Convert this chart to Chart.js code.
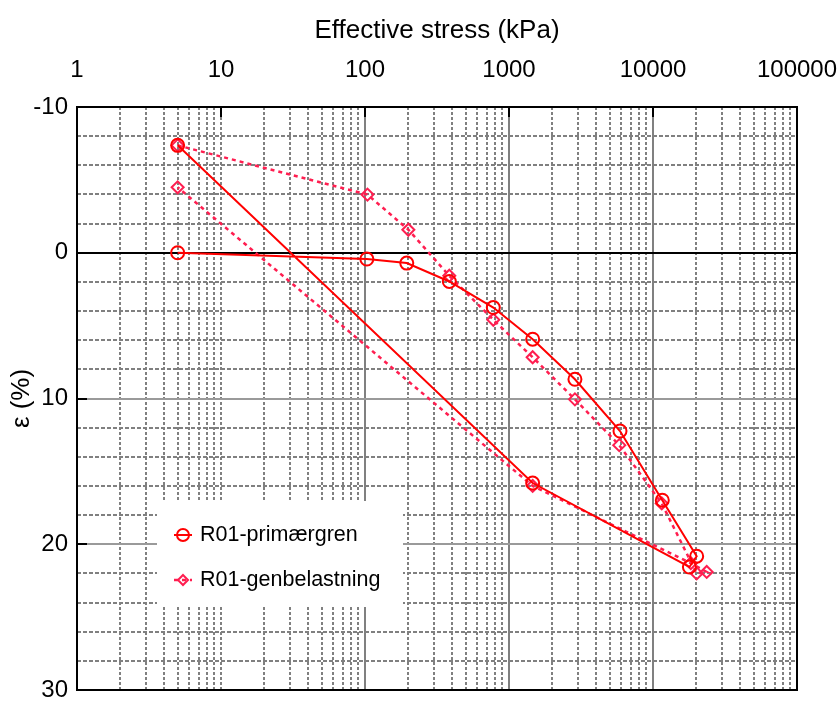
<!DOCTYPE html>
<html>
<head>
<meta charset="utf-8">
<script src="https://cdn.jsdelivr.net/npm/chart.js@4/dist/chart.umd.min.js"></script>
<style>
  html, body { margin: 0; padding: 0; background: #fff; }
  #wrap { width: 839px; height: 701px; }
</style>
</head>
<body>
<div id="wrap"><canvas id="myChart" width="839" height="701"></canvas></div>
<script>
// oedometer test R01: stress (kPa) vs. strain (%)
const primaryStress = [5, 103, 195, 385, 778, 1460, 2870, 5900, 11600, 20100, 17900, 1460, 5];
const primaryStrain = [0, 0.43, 0.71, 1.97, 3.76, 5.93, 8.68, 12.23, 16.98, 20.82, 21.56, 15.8, -7.37];

const reloadStress = [5, 104, 200, 385, 778, 1460, 2870, 5830, 11500, 20100, 23600, 18300, 1460, 5];
const reloadStrain = [-7.37, -3.99, -1.58, 1.58, 4.6, 7.17, 10.06, 13.2, 17.2, 22.0, 21.9, 21.3, 16.0, -4.49];

const seriesLabels = ["R01-primærgren", "R01-genbelastning"];
const stressTicks = [1, 10, 100, 1000, 10000, 100000];
const strainTicks = [-10, 0, 10, 20, 30];

const FONT = '"Liberation Sans", Arial, sans-serif';
const RED = "#ff0000";
const PINK = "#ff1e50";
const GRID = "#808080";

const toPoints = (xs, ys) => xs.map((x, i) => ({ x: x, y: ys[i] }));

// keep Chart.js from growing the margins for overhanging tick labels
const noOverhang = scale => {
    scale.paddingLeft = 0;
    scale.paddingRight = 0;
    scale.paddingTop = 0;
    scale.paddingBottom = 0;
};

// dotted log grid, solid decades, zero line, frame and inner ticks
const gridPlugin = {
    id: "logGrid",
    beforeDatasetsDraw(chart) {
        const { ctx, chartArea: a, scales: { x, y } } = chart;
        const vline = (px, color, dash) => {
            ctx.strokeStyle = color;
            ctx.setLineDash(dash);
            ctx.beginPath();
            ctx.moveTo(px, a.top);
            ctx.lineTo(px, a.bottom);
            ctx.stroke();
        };
        const hline = (py, color, dash) => {
            ctx.strokeStyle = color;
            ctx.setLineDash(dash);
            ctx.beginPath();
            ctx.moveTo(a.left, py);
            ctx.lineTo(a.right, py);
            ctx.stroke();
        };
        ctx.save();
        ctx.lineWidth = 2;

        for (let d = 1; d < 100000; d *= 10) {
            for (let m = 2; m <= 9; m++) {
                vline(Math.round(x.getPixelForValue(d * m)), GRID, [3, 2]);
            }
        }
        vline(Math.round(x.getPixelForValue(10)), GRID, [3, 2]);
        [100, 1000, 10000].forEach(v => vline(Math.round(x.getPixelForValue(v)), GRID, []));

        for (let v = -8; v < 30; v += 2) {
            if (v % 10 === 0) continue;
            hline(Math.round(y.getPixelForValue(v)), GRID, [4, 2]);
        }
        [10, 20].forEach(v => hline(Math.round(y.getPixelForValue(v)), "#9a9a9a", []));
        hline(Math.round(y.getPixelForValue(0)), "#000", []);

        ctx.setLineDash([]);
        ctx.strokeStyle = "#000";
        ctx.strokeRect(a.left, a.top, a.right - a.left, a.bottom - a.top);

        ctx.beginPath();
        stressTicks.slice(1).forEach(v => {
            const px = Math.round(x.getPixelForValue(v));
            ctx.moveTo(px, a.top);
            ctx.lineTo(px, a.top + 10);
        });
        [0, 10, 20].forEach(v => {
            const py = Math.round(y.getPixelForValue(v));
            ctx.moveTo(a.left, py);
            ctx.lineTo(a.left + 10, py);
        });
        ctx.stroke();
        ctx.restore();
    }
};

// boxed legend placed inside the plot, lower left
const legendPlugin = {
    id: "boxLegend",
    afterDatasetsDraw(chart) {
        const { ctx } = chart;
        const box = { x: 157, y: 501, w: 246, h: 106 };
        ctx.save();
        ctx.fillStyle = "#fff";
        ctx.fillRect(box.x, box.y, box.w, box.h);

        chart.data.datasets.forEach((ds, i) => {
            const cy = box.y + 34 + i * 45;
            const cx = box.x + 26;
            ctx.strokeStyle = ds.borderColor;
            ctx.lineWidth = ds.borderWidth;
            ctx.setLineDash(ds.borderDash || []);
            ctx.beginPath();
            ctx.moveTo(cx - 9, cy);
            ctx.lineTo(cx + 9, cy);
            ctx.stroke();

            ctx.setLineDash([]);
            ctx.lineWidth = 2;
            ctx.beginPath();
            if (ds.pointStyle === "rectRot") {
                ctx.moveTo(cx, cy - 5);
                ctx.lineTo(cx + 5, cy);
                ctx.lineTo(cx, cy + 5);
                ctx.lineTo(cx - 5, cy);
                ctx.closePath();
            } else {
                ctx.arc(cx, cy, 6, 0, Math.PI * 2);
            }
            ctx.stroke();

            ctx.fillStyle = "#000";
            ctx.font = "21.5px " + FONT;
            ctx.textBaseline = "middle";
            ctx.fillText(ds.label, box.x + 43, cy);
        });
        ctx.restore();
    }
};

const ctx = document.getElementById("myChart").getContext("2d");
const chart = new Chart(ctx, {
    type: "line",
    data: {
        datasets: [
            {
                label: seriesLabels[0],
                data: toPoints(primaryStress, primaryStrain),
                borderColor: RED,
                borderWidth: 2,
                pointStyle: "circle",
                pointRadius: 6.5,
                pointBorderWidth: 2,
                pointBorderColor: RED,
                pointBackgroundColor: "rgba(0,0,0,0)"
            },
            {
                label: seriesLabels[1],
                data: toPoints(reloadStress, reloadStrain),
                borderColor: PINK,
                borderWidth: 2.5,
                borderDash: [4, 4],
                pointStyle: "rectRot",
                pointRadius: 6,
                pointBorderWidth: 2,
                pointBorderColor: PINK,
                pointBackgroundColor: "rgba(0,0,0,0)"
            }
        ]
    },
    options: {
        responsive: false,
        animation: false,
        layout: { padding: { left: 0, top: 0, right: 42, bottom: 11 } },
        plugins: {
            legend: { display: false },
            tooltip: { enabled: false }
        },
        scales: {
            x: {
                type: "logarithmic",
                position: "top",
                min: 1,
                max: 100000,
                grid: { display: false, drawTicks: false },
                border: { display: false },
                afterBuildTicks: scale => {
                    scale.ticks = stressTicks.map(v => ({ value: v }));
                },
                afterFit: scale => {
                    scale.height = 107;
                    noOverhang(scale);
                },
                ticks: {
                    color: "#000",
                    padding: 22,
                    maxRotation: 0,
                    autoSkip: false,
                    font: { family: FONT, size: 24 },
                    callback: v => String(v)
                },
                title: {
                    display: true,
                    text: "Effective stress (kPa)",
                    color: "#000",
                    padding: { top: 15, bottom: 0 },
                    font: { family: FONT, size: 26 }
                }
            },
            y: {
                type: "linear",
                reverse: true,
                min: -10,
                max: 30,
                grid: { display: false, drawTicks: false },
                border: { display: false },
                afterBuildTicks: scale => {
                    scale.ticks = strainTicks.map(v => ({ value: v }));
                },
                afterFit: scale => {
                    scale.width = 77;
                    noOverhang(scale);
                },
                ticks: {
                    color: "#000",
                    padding: 9,
                    font: { family: FONT, size: 24 },
                    callback: v => String(v)
                },
                title: {
                    display: true,
                    text: "ε (%)",
                    color: "#000",
                    padding: { top: 6, bottom: 0 },
                    font: { family: FONT, size: 26 }
                }
            }
        }
    },
    plugins: [gridPlugin, legendPlugin]
});
</script>
</body>
</html>
